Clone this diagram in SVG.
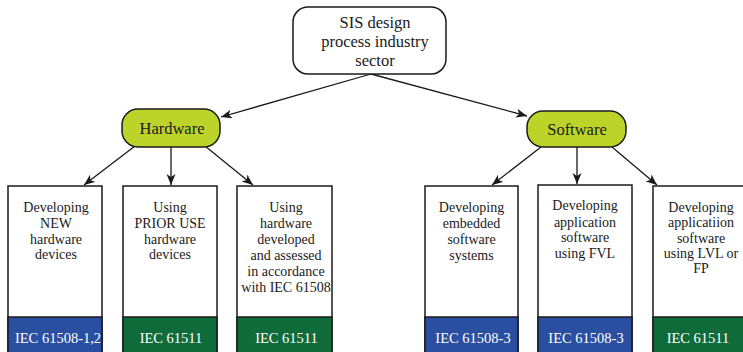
<svg xmlns="http://www.w3.org/2000/svg" width="743" height="352" viewBox="0 0 743 352">
<style>
text{font-family:"Liberation Serif","Times New Roman",serif;text-anchor:middle;fill:#1a1a1a}
.top{font-size:16.5px}
.pill{font-size:16.5px}
.body{font-size:14px}
.lab{font-size:14.5px;fill:#ffffff}
.box{fill:#ffffff;stroke:#1a1a1a;stroke-width:1.5}
.blue{fill:#2a4fa0;stroke:#1a1a1a;stroke-width:1.5}
.green{fill:#0f6b3a;stroke:#1a1a1a;stroke-width:1.5}
.pillr{fill:#bcd42a;stroke:#1a1a1a;stroke-width:1.5}
.conn line{stroke:#1a1a1a;stroke-width:1.3;marker-end:url(#ah)}
</style>
<defs>
<marker id="ah" markerUnits="userSpaceOnUse" markerWidth="12" markerHeight="10" refX="11" refY="4.5" orient="auto">
<path d="M0,0 L11,4.5 L0,9 L3,4.5 Z" fill="#1a1a1a"/>
</marker>
</defs>
<rect width="743" height="352" fill="#ffffff"/>
<g id="connectors" class="conn">
<line x1="371" y1="74" x2="221" y2="117"/>
<line x1="371" y1="74" x2="527" y2="116"/>
<line x1="135" y1="146" x2="84" y2="185"/>
<line x1="171" y1="147" x2="171" y2="185"/>
<line x1="205" y1="146" x2="253" y2="185"/>
<line x1="541" y1="147" x2="492" y2="185"/>
<line x1="577" y1="147" x2="577" y2="184"/>
<line x1="612" y1="147" x2="657" y2="185"/>
</g>
<g id="root">
<rect x="293" y="7" width="153" height="67" rx="15" class="box"/>
<text class="top" x="375" y="28">SIS design</text>
<text class="top" x="375" y="47">process industry</text>
<text class="top" x="375" y="66">sector</text>
</g>
<g id="hardware">
<rect x="122" y="109" width="98" height="38" rx="16" class="pillr"/>
<text class="pill" x="172" y="134">Hardware</text>
</g>
<g id="software">
<rect x="527" y="111" width="99" height="36" rx="16" class="pillr"/>
<text class="pill" x="577" y="135">Software</text>
</g>
<g id="hw-new">
<rect x="8" y="186" width="94" height="175" class="box"/>
<rect x="8" y="317" width="94" height="44" class="blue"/>
<text class="body" x="56" y="212">Developing</text>
<text class="body" x="56" y="228">NEW</text>
<text class="body" x="56" y="244">hardware</text>
<text class="body" x="56" y="259">devices</text>
<text class="lab" x="58" y="343">IEC 61508-1,2</text>
</g>
<g id="hw-prior">
<rect x="123" y="186" width="94" height="175" class="box"/>
<rect x="123" y="317" width="94" height="44" class="green"/>
<text class="body" x="170" y="212">Using</text>
<text class="body" x="170" y="228">PRIOR USE</text>
<text class="body" x="170" y="244">hardware</text>
<text class="body" x="170" y="259">devices</text>
<text class="lab" x="171" y="343">IEC 61511</text>
</g>
<g id="hw-assessed">
<rect x="237" y="186" width="95" height="175" class="box"/>
<rect x="237" y="317" width="95" height="44" class="green"/>
<text class="body" x="286" y="212">Using</text>
<text class="body" x="286" y="228">hardware</text>
<text class="body" x="286" y="244">developed</text>
<text class="body" x="286" y="260">and assessed</text>
<text class="body" x="286" y="276">in accordance</text>
<text class="body" x="286" y="292">with IEC 61508</text>
<text class="lab" x="286.5" y="343">IEC 61511</text>
</g>
<g id="sw-embedded">
<rect x="425" y="186" width="93" height="175" class="box"/>
<rect x="425" y="317" width="93" height="44" class="blue"/>
<text class="body" x="471.5" y="212">Developing</text>
<text class="body" x="471.5" y="228">embedded</text>
<text class="body" x="471.5" y="244">software</text>
<text class="body" x="471.5" y="260">systems</text>
<text class="lab" x="473" y="343">IEC 61508-3</text>
</g>
<g id="sw-fvl">
<rect x="538" y="185" width="94" height="176" class="box"/>
<rect x="538" y="317" width="94" height="44" class="blue"/>
<text class="body" x="585" y="210">Developing</text>
<text class="body" x="585" y="227">application</text>
<text class="body" x="585" y="242">software</text>
<text class="body" x="585" y="258">using FVL</text>
<text class="lab" x="586" y="343">IEC 61508-3</text>
</g>
<g id="sw-lvl">
<rect x="653" y="186" width="96" height="175" class="box"/>
<rect x="653" y="317" width="96" height="44" class="green"/>
<text class="body" x="701" y="212">Developing</text>
<text class="body" x="701" y="227">applicatiion</text>
<text class="body" x="701" y="243">software</text>
<text class="body" x="701" y="258">using LVL or</text>
<text class="body" x="701" y="273">FP</text>
<text class="lab" x="698" y="343">IEC 61511</text>
</g>
</svg>
